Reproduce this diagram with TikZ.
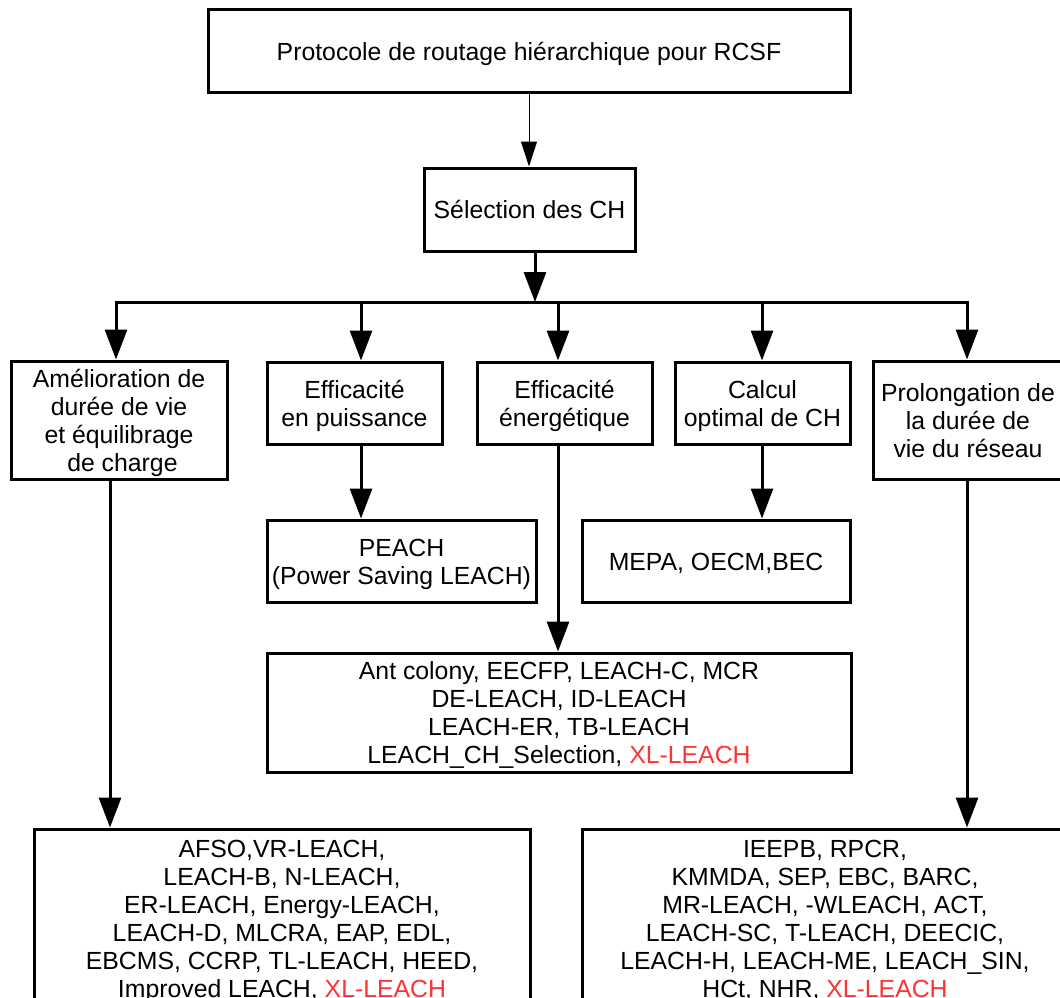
\documentclass[tikz,border=0pt]{standalone}
\usepackage{fontspec}
\setmainfont{Liberation Sans}
\usetikzlibrary{arrows.meta}
\definecolor{xlred}{RGB}{255,51,51}
\begin{document}
\begin{tikzpicture}[x=1pt,y=-1pt,
  box/.style={draw,line width=3pt,inner sep=0pt,align=center,
    font=\fontsize{24.8}{28}\selectfont,text height=22pt,text depth=4pt},
  twol/.style={text height=50pt},
  threel/.style={text height=78pt},
  fourl/.style={text height=106pt},
  sixl/.style={text height=162pt},
  arr/.style={line width=3pt,-{Triangle[width=22pt,length=30pt]}},
  thinarr/.style={line width=1pt,-{Triangle[width=16pt,length=25pt]}}]
\useasboundingbox (0,0) rectangle (1060,998);
\fill[white] (0,0) rectangle (1060,998);
% boxes
\node[box,minimum width=642pt,minimum height=82pt] (top) at (529,51)
  {Protocole de routage hiérarchique pour RCSF};
\node[box,minimum width=211pt,minimum height=83pt] (sel) at (529.5,209.5)
  {Sélection des CH};
\node[box,fourl,minimum width=216pt,minimum height=118pt] (ame) at (119,420)
  {Amélioration de\\durée de vie\\et équilibrage\\~de charge};
\node[box,twol,minimum width=175pt,minimum height=82pt] (effp) at (354.5,403)
  {Efficacité\\en puissance};
\node[box,twol,minimum width=175pt,minimum height=82pt] (effe) at (564.5,403)
  {Efficacité\\énergétique};
\node[box,twol,minimum width=175pt,minimum height=82pt] (calc) at (762.5,403)
  {Calcul\\optimal de CH};
\node[box,threel,minimum width=190pt,minimum height=118pt] (prol) at (968,420)
  {Prolongation de\\la durée de\\vie du réseau};
\node[box,twol,minimum width=269pt,minimum height=82pt] (peach) at (401.5,561)
  {PEACH\\(Power Saving LEACH)};
\node[box,minimum width=268pt,minimum height=82pt] (mepa) at (716,561)
  {MEPA, OECM,BEC};
\node[box,fourl,minimum width=584pt,minimum height=119pt] (ant) at (559,712.5)
  {Ant colony, EECFP, LEACH-C, MCR\\DE-LEACH, ID-LEACH\\LEACH-ER, TB-LEACH\\LEACH\_CH\_Selection, \textcolor{xlred}{XL-LEACH}};
\node[box,sixl,minimum width=496pt,minimum height=178pt] (bl) at (282,918)
  {AFSO,VR-LEACH,\\LEACH-B, N-LEACH,\\ER-LEACH, Energy-LEACH,\\LEACH-D, MLCRA, EAP, EDL,\\EBCMS, CCRP, TL-LEACH, HEED,\\Improved LEACH, \textcolor{xlred}{XL-LEACH}};
\node[box,sixl,minimum width=486pt,minimum height=178pt] (br) at (825,918)
  {IEEPB, RPCR,\\KMMDA, SEP, EBC, BARC,\\MR-LEACH, -WLEACH, ACT,\\LEACH-SC, T-LEACH, DEECIC,\\LEACH-H, LEACH-ME, LEACH\_SIN,\\HCt, NHR, \textcolor{xlred}{XL-LEACH}};
% bus coordinates
\coordinate (sb) at (535,302);
\coordinate (b0) at (116,302);
\coordinate (b1) at (361,302);
\coordinate (b2) at (558,302);
\coordinate (b3) at (762,302);
\coordinate (b4) at (967,302);
\coordinate (xa) at (110,0);
\coordinate (xb) at (529,0);
% connectors
\draw[thinarr] (top.south -| xb) -- (sel.north -| xb);
\draw[arr] (sel.south -| sb) -- (sb);
\draw[line width=3pt,line cap=rect] (b0) -- (b4);
\draw[arr] (b0) -- (ame.north -| b0);
\draw[arr] (b1) -- (effp.north -| b1);
\draw[arr] (b2) -- (effe.north -| b2);
\draw[arr] (b3) -- (calc.north -| b3);
\draw[arr] (b4) -- (prol.north -| b4);
\draw[arr] (effp.south -| b1) -- (peach.north -| b1);
\draw[arr] (effe.south -| b2) -- (ant.north -| b2);
\draw[arr] (calc.south -| b3) -- (mepa.north -| b3);
\draw[arr] (ame.south -| xa) -- (bl.north -| xa);
\draw[arr] (prol.south -| b4) -- (br.north -| b4);
\end{tikzpicture}
\end{document}
